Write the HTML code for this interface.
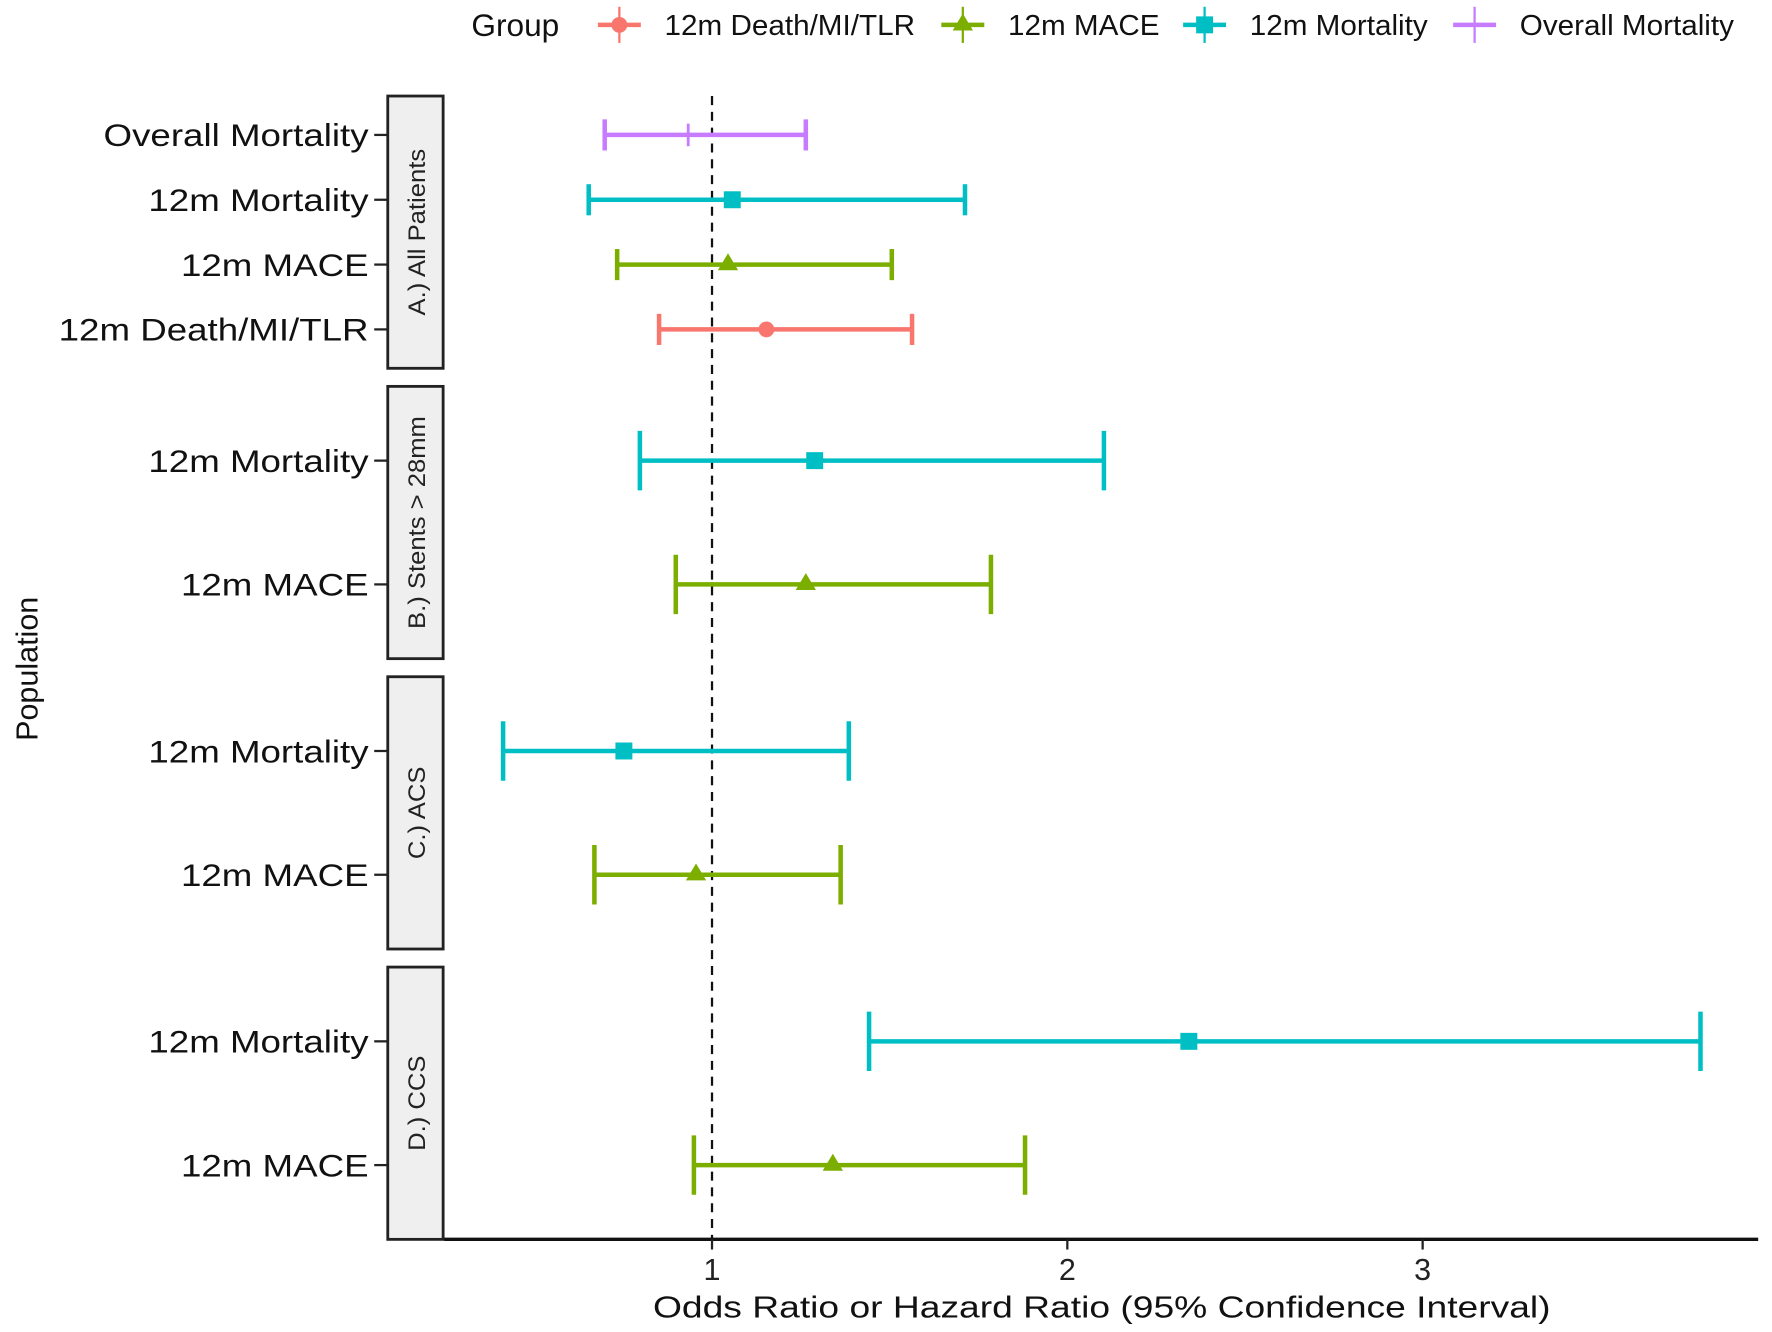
<!DOCTYPE html>
<html><head><meta charset="utf-8"><style>
html,body{margin:0;padding:0;background:#fff;}
svg{display:block;font-family:"Liberation Sans",Arial,sans-serif;}
</style></head><body>
<svg id="chart" width="1772" height="1332" viewBox="0 0 1568 1179" xmlns="http://www.w3.org/2000/svg">
<g id="legend"></g>
<g id="strips"></g>
<g id="plot"></g>
<g id="axes"></g>
<text id="ytitle" x="0" y="0" transform="translate(33,592) rotate(-90)" text-anchor="middle" font-size="27" fill="#111">Population</text>
<text id="xtitle" x="975" y="1166" text-anchor="middle" font-size="27" fill="#111">Odds Ratio or Hazard Ratio (95% Confidence Interval)</text>
</svg>
<script>
const panels = ["A.) All Patients","B.) Stents > 28mm","C.) ACS","D.) CCS"];
const rowPanel = [0,0,0,0,1,1,2,2,3,3];
const rowLabels = ["Overall Mortality","12m Mortality","12m MACE","12m Death/MI/TLR","12m Mortality","12m MACE","12m Mortality","12m MACE","12m Mortality","12m MACE"];
const rowGroup = [3,2,1,0,2,1,2,1,2,1];
const estimates = [0.933,1.057,1.045,1.153,1.289,1.264,0.752,0.955,2.342,1.340];
const lower = [0.698,0.653,0.733,0.851,0.797,0.898,0.412,0.669,1.442,0.949];
const upper = [1.264,1.712,1.506,1.563,2.103,1.785,1.385,1.362,3.782,1.881];
const groups = ["12m Death/MI/TLR","12m MACE","12m Mortality","Overall Mortality"];
const xTicks = [1,2,3];

const NS="http://www.w3.org/2000/svg";
const colors=["#F8766D","#7CAE00","#00BFC4","#C77CFF"];
function mk(tag,attrs,parent){const e=document.createElementNS(NS,tag);for(const k in attrs)e.setAttribute(k,attrs[k]);parent.appendChild(e);return e;}
function stretch(el,f){const w=el.getComputedTextLength();el.setAttribute('textLength',w*f);el.setAttribute('lengthAdjust','spacingAndGlyphs');}
const xScale=v=>315.5+314.5*v;
const panelTop=[85,342,599,856], panelH=241;
function yPos(i){
  const p=rowPanel[i];const rows=[];rowPanel.forEach((q,j)=>{if(q===p)rows.push(j);});
  const k=rows.indexOf(i), n=rows.length;
  const step=panelH/(n+0.2);
  return panelTop[p]+panelH/2+(k-(n-1)/2)*step;
}
function rowStep(i){const p=rowPanel[i];const n=rowPanel.filter(q=>q===p).length;return panelH/(n+0.2);}
const strips=document.getElementById('strips'),plot=document.getElementById('plot'),axes=document.getElementById('axes'),legend=document.getElementById('legend');
panels.forEach((name,p)=>{
  const r=mk('rect',{x:343,y:panelTop[p],width:49,height:panelH,fill:'#efefef',stroke:'#222','stroke-width':2.5},strips);
  
  
  const t=mk('text',{transform:`translate(376,${panelTop[p]+panelH/2}) rotate(-90)`,'text-anchor':'middle','font-size':21,fill:'#222'},strips);
  t.textContent=name;
  
  
  stretch(t,1.08);
});
const ref=mk('line',{x1:xScale(1),x2:xScale(1),y1:85,y2:1097,stroke:'#111','stroke-width':2,'stroke-dasharray':'8,6'},plot);


function marker(g,x,y,c,parent){
  let m;
  if(g===0)m=mk('circle',{cx:x,cy:y,r:7,fill:c},parent);
  else if(g===1)m=mk('polygon',{points:`${x},${y-10} ${x-9},${y+5} ${x+9},${y+5}`,fill:c},parent);
  else if(g===2)m=mk('rect',{x:x-7.5,y:y-7.5,width:15,height:15,fill:c},parent);
  else m=mk('line',{x1:x,x2:x,y1:y-10,y2:y+10,stroke:c,'stroke-width':2.5},parent);
  return m;
}
rowLabels.forEach((lab,i)=>{
  const y=yPos(i),c=colors[rowGroup[i]],h=rowStep(i)*0.24;
  const g=mk('g',{},plot);
  
  
  const x1=xScale(lower[i]),x2=xScale(upper[i]);
  mk('line',{x1:x1,x2:x2,y1:y,y2:y,stroke:c,'stroke-width':4},g);
  mk('line',{x1:x1,x2:x1,y1:y-h,y2:y+h,stroke:c,'stroke-width':4},g);
  mk('line',{x1:x2,x2:x2,y1:y-h,y2:y+h,stroke:c,'stroke-width':4},g);
  const m=marker(rowGroup[i],xScale(estimates[i]),y,c,g);
  
  
  const t=mk('text',{x:326,y:y+10,'text-anchor':'end','font-size':28,fill:'#111'},axes);
  t.textContent=lab;
  
  
  stretch(t,1.16);
  mk('line',{x1:331,x2:343,y1:y,y2:y,stroke:'#222','stroke-width':2},axes);
});
const xa=mk('line',{x1:393,x2:1556,y1:1097,y2:1097,stroke:'#111','stroke-width':3},axes);


xTicks.forEach(v=>{
  mk('line',{x1:xScale(v),x2:xScale(v),y1:1097,y2:1106,stroke:'#222','stroke-width':2},axes);
  const t=mk('text',{x:xScale(v),y:1133,'text-anchor':'middle','font-size':27,fill:'#222'},axes);
  t.textContent=v;
  
  
});
stretch(document.getElementById('xtitle'),1.22);
const lt=mk('text',{x:417,y:32,'font-size':28,fill:'#111'},legend);
lt.textContent='Group';


const lx=[548,852,1066,1305];
groups.forEach((gname,k)=>{
  const g=mk('g',{},legend);
  
  
  const c=colors[k],x=lx[k],y=22;
  mk('line',{x1:x-19,x2:x+19,y1:y,y2:y,stroke:c,'stroke-width':4},g);
  mk('line',{x1:x,x2:x,y1:y-16,y2:y+16,stroke:c,'stroke-width':2},g);
  if(k<3)marker(k,x,y,c,g);
  const t=mk('text',{x:x+40,y:y+9,'font-size':25,fill:'#111'},g);
  t.textContent=gname;
  stretch(t,1.05);
});
</script>
</body></html>
